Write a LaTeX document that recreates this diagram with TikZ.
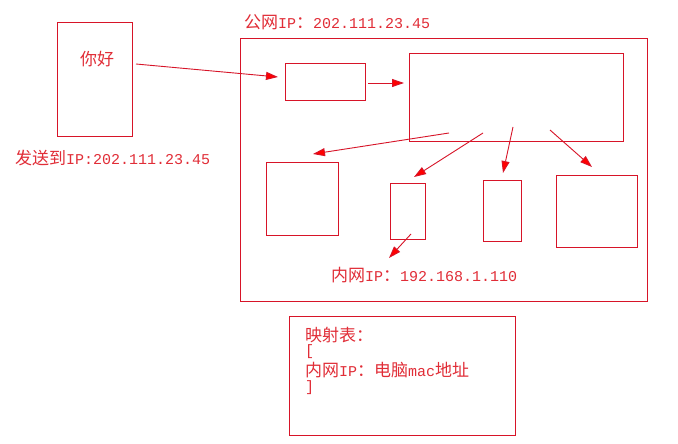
\documentclass[tikz,border=0pt]{standalone}
\usepackage{fontspec}
\setmainfont{Liberation Mono}
\newfontfamily\cjk{Noto Sans CJK SC}
\usetikzlibrary{arrows.meta}
\definecolor{lr}{RGB}{215,20,40}
\definecolor{tr}{RGB}{225,45,55}
\begin{document}
\begin{tikzpicture}[x=1pt,y=-1pt,
  box/.style={draw=lr,line width=1pt,inner sep=0pt,anchor=north west},
  arr/.style={draw=lr,line width=0.9pt,-{Triangle[length=12pt,width=8pt,fill=red]}},
  txt/.style={text=tr,font=\fontsize{15}{18}\selectfont,inner sep=0pt,anchor=west}]
\useasboundingbox (0,0) rectangle (678,444);
\fill[white] (0,0) rectangle (678,444);
% boxes
\node[box,minimum width=75pt,minimum height=114pt] (hello) at (57,22) {};
\node[box,minimum width=407pt,minimum height=263pt] (outer) at (240,38) {};
\node[box,minimum width=80pt,minimum height=37pt] (small) at (285,63) {};
\node[box,minimum width=214pt,minimum height=88pt] (big) at (409,53) {};
\node[box,minimum width=72pt,minimum height=73pt] (pcA) at (266,162) {};
\node[box,minimum width=35pt,minimum height=56pt] (pcB) at (390,183) {};
\node[box,minimum width=38pt,minimum height=61pt] (pcC) at (483,180) {};
\node[box,minimum width=81pt,minimum height=72pt] (pcD) at (556,175) {};
\node[box,minimum width=226pt,minimum height=119pt] (map) at (289,316) {};
% texts
\node[text=tr,inner sep=0pt,font=\fontsize{17}{18}\selectfont\cjk] (hi) at (97,59) {你好};
\node[txt] (pubip) at (244,22) {{\cjk\fontsize{17}{18}\selectfont 公网}IP{\cjk\fontsize{17}{18}\selectfont ：}202.111.23.45};
\node[txt] (send) at (15,158) {{\cjk\fontsize{17}{18}\selectfont 发送到}IP:202.111.23.45};
\node[txt] (lanip) at (331,275) {{\cjk\fontsize{17}{18}\selectfont 内网}IP{\cjk\fontsize{17}{18}\selectfont ：}192.168.1.110};
\node[txt] (m1) at (305,335) {{\cjk\fontsize{17}{18}\selectfont 映射表：}};
\node[txt] (m2) at (305,352) {[};
\node[txt] (m3) at (305,370) {{\cjk\fontsize{17}{18}\selectfont 内网}IP{\cjk\fontsize{17}{18}\selectfont ：电脑}mac{\cjk\fontsize{17}{18}\selectfont 地址}};
\node[txt] (m4) at (305,388) {]};
% arrow ends
\coordinate (s0) at (136,64);  \coordinate (e0) at (278,77);
\coordinate (s1) at (368,83);  \coordinate (e1) at (404,83);
\coordinate (s2) at (449,133); \coordinate (e2) at (313,154);
\coordinate (s3) at (483,133); \coordinate (e3) at (414,177);
\coordinate (s4) at (513,127); \coordinate (e4) at (503,173);
\coordinate (s5) at (550,130); \coordinate (e5) at (592,167);
\coordinate (s6) at (411,234); \coordinate (e6) at (389,258);
\draw[arr] (s0) -- (e0);
\draw[arr] (s1) -- (e1);
\draw[arr] (s2) -- (e2);
\draw[arr] (s3) -- (e3);
\draw[arr] (s4) -- (e4);
\draw[arr] (s5) -- (e5);
\draw[arr] (s6) -- (e6);
\end{tikzpicture}
\end{document}
